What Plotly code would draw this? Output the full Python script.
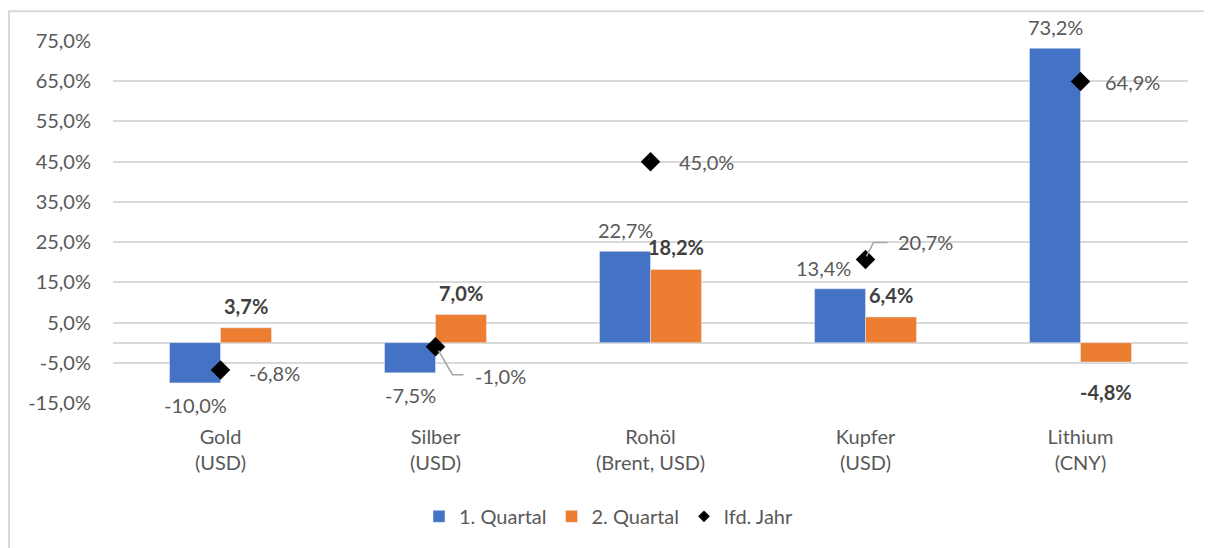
import plotly.graph_objects as go

categories = ["Gold<br>(USD)", "Silber<br>(USD)", "Rohöl<br>(Brent, USD)", "Kupfer<br>(USD)", "Lithium<br>(CNY)"]
q1 = [-10.0, -7.5, 22.7, 13.4, 73.2]
q2 = [3.7, 7.0, 18.2, 6.4, -4.8]
ytd = [-6.8, -1.0, 45.0, 20.7, 64.9]
tick_vals = [-15, -5, 5, 15, 25, 35, 45, 55, 65, 75]

BLUE = "#4472C4"
ORANGE = "#ED7D31"
TXT = "#595959"
BOLD_TXT = "#404040"
GRID = "#D9D9D9"
FONT = "Lato"
FS = 20


def fmt(v):
    return f"{v:.1f}".replace(".", ",") + "%"


fig = go.Figure()
fig.add_trace(go.Bar(x=categories, y=q1, name="1. Quartal", marker_color=BLUE))
fig.add_trace(go.Bar(x=categories, y=q2, name="2. Quartal", marker_color=ORANGE))
fig.add_trace(go.Scatter(x=categories, y=ytd, mode="markers", name="lfd. Jahr",
                         marker=dict(symbol="diamond", size=15, color="black"),
                         showlegend=False))
# legend-only entry with a smaller diamond
fig.add_trace(go.Scatter(x=[None], y=[None], mode="markers", name="lfd. Jahr",
                         marker=dict(symbol="diamond", size=9, color="black")))

ann = []
BAR_OFF = 25.5
# small nudges for individual bar labels (pixel styling)
q1_nudge = {3: -17}
for i, (c, v) in enumerate(zip(categories, q1)):
    pos = v >= 0
    ann.append(dict(x=c, y=v, xref="x", yref="y", text=fmt(v), showarrow=False,
                    xshift=-BAR_OFF + q1_nudge.get(i, 0), yshift=7 if pos else -8,
                    yanchor="bottom" if pos else "top",
                    font=dict(family=FONT, size=FS, color=TXT)))
for i, (c, v) in enumerate(zip(categories, q2)):
    pos = v >= 0
    ann.append(dict(x=c, y=v, xref="x", yref="y", text="<b>" + fmt(v) + "</b>", showarrow=False,
                    xshift=BAR_OFF, yshift=8 if pos else -16,
                    yanchor="bottom" if pos else "top",
                    font=dict(family=FONT, size=FS, color=BOLD_TXT)))

# year-to-date labels: (x shift, y shift) in pixels
ytd_off = [(26, -3), (37, -29), (26, 0), (30, 17), (22, 0)]
for (c, v), (dx, dy) in zip(zip(categories, ytd), ytd_off):
    ann.append(dict(x=c, y=v, xref="x", yref="y", text=fmt(v), showarrow=False,
                    xanchor="left", xshift=dx, yshift=dy,
                    font=dict(family=FONT, size=FS, color=TXT)))

shapes = []
# leader lines for Silber and Kupfer labels
leaders = {1: "M3,-4 L17,-28 L28,-28", 3: "M1,3 L8,17 L22,17"}
for i, path in leaders.items():
    shapes.append(dict(type="path", xref="x", yref="y", xsizemode="pixel", ysizemode="pixel",
                       xanchor=categories[i], yanchor=ytd[i], path=path,
                       line=dict(color="#A6A6A6", width=1.5), layer="above"))

# page has an 8px body margin; figure placed at (8, 8)
OFF = 8
W, H = 1212 - OFF, 548 - OFF
L, T = 113 - OFF, 41 - OFF
R = W - (1188 - OFF)
B = H - (405 - OFF)
pw, ph = W - L - R, H - T - B


def px(x):
    return (x - OFF - L) / pw


def py(y):
    return (H - B - (y - OFF)) / ph


shapes.append(dict(type="rect", xref="paper", yref="paper", x0=px(9), x1=px(1230),
                   y0=py(600), y1=py(11), line=dict(color=GRID, width=2), layer="below"))

fig.update_layout(
    width=W, height=H,
    margin=dict(l=L, r=R, t=T, b=B),
    paper_bgcolor="white", plot_bgcolor="white",
    barmode="group", bargap=0.526, bargroupgap=0,
    font=dict(family=FONT, size=FS, color=TXT),
    annotations=ann, shapes=shapes,
    legend=dict(orientation="h", x=px(609), xanchor="center", y=py(519), yanchor="middle",
                font=dict(family=FONT, size=FS, color=TXT), traceorder="normal"),
    xaxis=dict(showgrid=False, showline=False, ticks="", ticklabelstandoff=20,
               tickfont=dict(family=FONT, size=FS, color=TXT)),
    yaxis=dict(range=[-15, 75], tickvals=tick_vals, ticktext=[fmt(v) for v in tick_vals],
               showgrid=True, gridcolor=GRID, gridwidth=1.5,
               zeroline=True, zerolinecolor=GRID, zerolinewidth=1.5,
               showline=False, ticks="", ticklabelstandoff=21,
               tickfont=dict(family=FONT, size=FS, color=TXT)),
)

fig.write_html("out.html")
